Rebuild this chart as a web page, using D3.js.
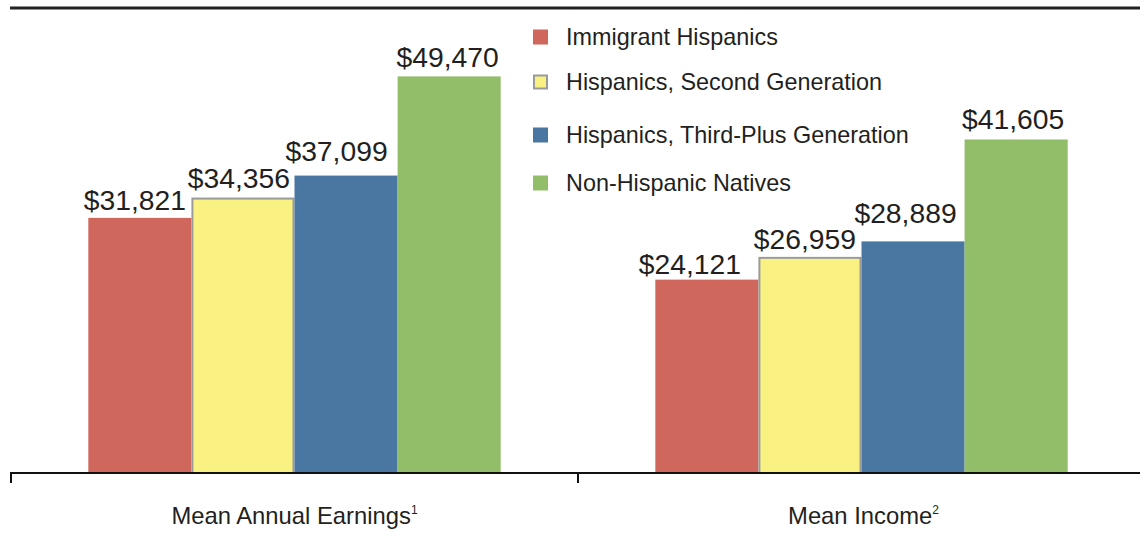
<!DOCTYPE html>
<html>
<head>
<meta charset="utf-8">
<script src="https://cdn.jsdelivr.net/npm/d3@7"></script>
<style>
  html, body { margin: 0; padding: 0; background: #fff; }
  svg { display: block; font-family: "Liberation Sans", Arial, Helvetica, sans-serif; }
</style>
</head>
<body>
<svg id="chart" width="1140" height="540"></svg>
<script>
const categories = ["Mean Annual Earnings", "Mean Income"];
const categorySup = ["1", "2"];
const series = ["Immigrant Hispanics", "Hispanics, Second Generation", "Hispanics, Third-Plus Generation", "Non-Hispanic Natives"];
const seriesColors = ["#cf675d", "#f9f282", "#4a77a1", "#92be6a"];
const immigrant = [31821, 24121];
const secondGen = [34356, 26959];
const thirdPlus = [37099, 28889];
const nonHispanic = [49470, 41605];
const seriesValues = [immigrant, secondGen, thirdPlus, nonHispanic];

// hand-placed label nudges (layout only)
const labelDx = [[-5, -4, -9.5, -1.5], [-17, -5, -7.5, -3]];
const labelGap = [[8, 9.5, 15, 9.5], [6, 7.5, 18, 10]];

const svg = d3.select("#chart");
const baseY = 473;

const x0 = d3.scaleBand().domain(categories).range([11, 1145]).paddingInner(0).paddingOuter(0);
const x1 = d3.scaleBand().domain(series).range([0, x0.bandwidth()]).paddingInner(0).paddingOuter(0.75);
const y = d3.scaleLinear().domain([0, 59000]).range([baseY, 0]);

const fmt = v => "$" + d3.format(",")(v);

// top rule
svg.append("line").attr("x1", 10).attr("x2", 1140).attr("y1", 8).attr("y2", 8)
  .attr("stroke", "#222").attr("stroke-width", 3);

const groups = svg.selectAll("g.grp").data(categories).join("g")
  .attr("class", "grp")
  .attr("transform", d => `translate(${x0(d)},0)`);

groups.each(function(cat, ci) {
  const g = d3.select(this);
  series.forEach((s, si) => {
    const v = seriesValues[si][ci];
    const isYellow = si === 1;
    const bx = x1(s), bw = x1.bandwidth();
    g.append("rect")
      .attr("x", isYellow ? bx + 1 : bx)
      .attr("y", isYellow ? y(v) + 1 : y(v))
      .attr("width", isYellow ? bw - 2 : bw)
      .attr("height", isYellow ? baseY - y(v) - 1 : baseY - y(v))
      .attr("fill", seriesColors[si])
      .attr("stroke", isYellow ? "#9a9a9a" : "none")
      .attr("stroke-width", isYellow ? 2 : 0);
    g.append("text")
      .attr("x", bx + bw / 2 + labelDx[ci][si])
      .attr("y", y(v) - labelGap[ci][si])
      .attr("text-anchor", "middle")
      .attr("font-size", 28.3)
      .attr("fill", "#231f20")
      .text(fmt(v));
  });
});

// x axis
const axis = d3.axisBottom(x0).tickSize(0).tickFormat("");
const axG = svg.append("g").attr("transform", `translate(0,${baseY})`).call(axis);
axG.select(".domain").attr("stroke", "#111").attr("stroke-width", 2).attr("d", "M10,0H1140");
// band boundary ticks
[11, x0(categories[1])].forEach(tx => {
  axG.append("line").attr("x1", tx).attr("x2", tx).attr("y1", 0).attr("y2", 10)
    .attr("stroke", "#111").attr("stroke-width", 2);
});

// category labels
categories.forEach((c, i) => {
  const t = svg.append("text")
    .attr("x", x0(c) + x0.bandwidth() / 2 + (i === 0 ? 0 : 2))
    .attr("y", 524)
    .attr("text-anchor", "middle")
    .attr("font-size", 23.8)
    .attr("fill", "#231f20");
  t.append("tspan").text(c);
  t.append("tspan").attr("font-size", 12).attr("dy", -10).text(categorySup[i]);
});

// legend
const legendY = [37, 82, 135, 183];
const leg = svg.append("g");
series.forEach((s, i) => {
  const isYellow = i === 1;
  leg.append("rect")
    .attr("x", isYellow ? 534 : 533)
    .attr("y", legendY[i] - 7.5 + (isYellow ? 1 : 0))
    .attr("width", isYellow ? 13 : 15)
    .attr("height", isYellow ? 13 : 15)
    .attr("fill", seriesColors[i])
    .attr("stroke", isYellow ? "#9a9a9a" : "none")
    .attr("stroke-width", isYellow ? 2 : 0);
  leg.append("text")
    .attr("x", 566)
    .attr("y", legendY[i])
    .attr("dy", "0.35em")
    .attr("font-size", 23.4)
    .attr("fill", "#231f20")
    .text(s);
});
</script>
</body>
</html>
